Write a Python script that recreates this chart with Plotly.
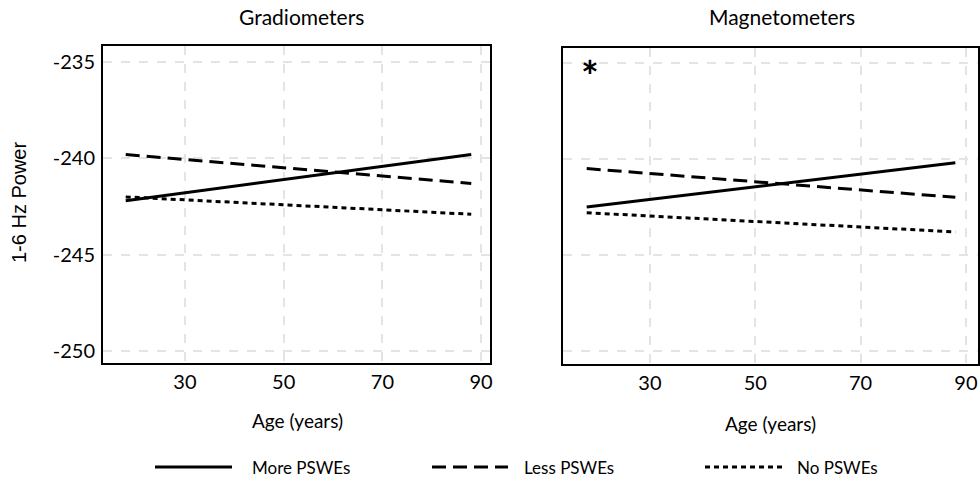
import plotly.graph_objects as go

# ---- data ----
panels = ["Gradiometers", "Magnetometers"]
series_names = ["More PSWEs", "Less PSWEs", "No PSWEs"]
age_range = [18, 88]
grad_more = [-242.2, -239.8]
grad_less = [-239.8, -241.3]
grad_none = [-242.0, -242.9]
mag_more = [-242.5, -240.2]
mag_less = [-240.5, -242.0]
mag_none = [-242.8, -243.8]
x_ticks = [30, 50, 70, 90]
y_ticks = [-250, -245, -240, -235]
y_tick_labels = ["-250", "-245", "-240", "-235"]
star_pos = (18.6, -235.7)

dashes = {"More PSWEs": "solid", "Less PSWEs": "14px,7px", "No PSWEs": "5px,4px"}
FONT = "Lato"

fig = go.Figure()
data = {
    "x": [grad_more, grad_less, grad_none],
    "x2": [mag_more, mag_less, mag_none],
}
for axis, vals in data.items():
    for name, yv in zip(series_names, vals):
        fig.add_trace(go.Scatter(
            x=age_range, y=yv, mode="lines", name=name,
            line=dict(color="black", width=3, dash=dashes[name]),
            xaxis=axis, yaxis="y" if axis == "x" else "y2",
            showlegend=False, hoverinfo="skip"))

common_axis = dict(showline=True, linecolor="black", linewidth=2, mirror=True,
                   showgrid=True, gridcolor="#e4e4e4", gridwidth=2, griddash="dash",
                   zeroline=False, ticks="", tickfont=dict(family=FONT, size=20, color="black"))

fig.update_layout(
    width=980, height=480, margin=dict(l=0, r=0, t=0, b=0, autoexpand=False),
    plot_bgcolor="white", paper_bgcolor="white", showlegend=False,
    xaxis=dict(domain=[103/980, 490/980], range=[13.4, 91.8], tickvals=x_ticks,
               anchor="y", ticklabelstandoff=0, **common_axis),
    yaxis=dict(domain=[1-363/480, 1-46/480], range=[-250.62, -234.17], tickvals=y_ticks,
               ticktext=y_tick_labels, anchor="x", ticklabelstandoff=2, **common_axis),
    xaxis2=dict(domain=[563/980, 978/980], range=[13.5, 92.3], tickvals=x_ticks,
                anchor="y2", ticklabelstandoff=0, **common_axis),
    yaxis2=dict(domain=[1-364/480, 1-48/480], range=[-250.68, -234.22], tickvals=y_ticks,
                anchor="x2", showticklabels=False, **common_axis),
)

# legend keys (style/layout positions in pixels)
legend_key_px = [(155, 232, 250), (432, 508, 522), (705, 782, 795)]
legend_y = 1 - 467/480
for name, (x0, x1, xt) in zip(series_names, legend_key_px):
    fig.add_shape(type="line", xref="paper", yref="paper", x0=x0/980, x1=x1/980,
                  y0=legend_y, y1=legend_y,
                  line=dict(color="black", width=3, dash=dashes[name]))
    fig.add_annotation(text=name, x=xt/980, y=legend_y, xref="paper", yref="paper",
                       showarrow=False, xanchor="left", yanchor="middle",
                       font=dict(family=FONT, size=17, color="black"))

ann = [
    dict(text=panels[0], x=301/980, y=1-17/480, size=21),
    dict(text=panels[1], x=782/980, y=1-17/480, size=21),
    dict(text="Age (years)", x=297/980, y=1-420/480, size=19),
    dict(text="Age (years)", x=770/980, y=1-423/480, size=19),
]
for a in ann:
    fig.add_annotation(text=a["text"], x=a["x"], y=a["y"], xref="paper", yref="paper",
                       showarrow=False, xanchor="center", yanchor="middle",
                       font=dict(family=FONT, size=a["size"], color="black"))
fig.add_annotation(text="1-6 Hz Power", x=19/980, y=1-203/480, xref="paper", yref="paper",
                   showarrow=False, textangle=-90, xanchor="center", yanchor="middle",
                   font=dict(family="Liberation Sans", size=20, color="black"))
fig.add_annotation(text="<b>*</b>", x=star_pos[0], y=star_pos[1], xref="x2", yref="y2",
                   showarrow=False, xanchor="center", yanchor="middle",
                   font=dict(family=FONT, size=42, color="black"))

fig.write_html("out.html")
